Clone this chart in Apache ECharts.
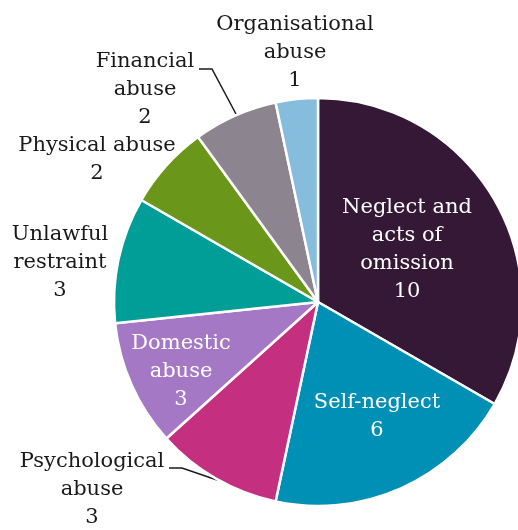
<!DOCTYPE html>
<html>
<head>
<meta charset="utf-8">
<script src="https://cdn.jsdelivr.net/npm/echarts@6/dist/echarts.min.js"></script>
<style>
  html, body { margin: 0; padding: 0; background: #fff; }
  #chart { width: 518px; height: 530px; }
</style>
</head>
<body>
<div id="chart"></div>
<script>
// categories and counts, clockwise from 12 o'clock
const categories = [
  'Neglect and\nacts of\nomission',
  'Self-neglect',
  'Psychological\nabuse',
  'Domestic\nabuse',
  'Unlawful\nrestraint',
  'Physical abuse',
  'Financial\nabuse',
  'Organisational\nabuse'
];
const counts = [10, 6, 3, 3, 3, 2, 2, 1];
const sliceColors = ['#351736', '#008fb5', '#c52f80', '#a478c4', '#009e96', '#6a9619', '#8c858f', '#86bcdc'];

// which labels sit inside the slice (white text)
const insideLabels = [true, true, false, true, false, false, false, false];

// label anchor (centre of text block), px
const labelSpots = [
  [407, 250], [377, 417], [92, 490], [181, 372],
  [60, 263], [97, 160], [145, 90], [295, 53]
];
// leader lines for the two labels that have one
const leaderLines = {
  2: [[217, 480], [182, 468], [169, 468]],
  6: [[236, 114], [212, 69], [199, 69]]
};

const chart = echarts.init(document.getElementById('chart'));

const option = {
  backgroundColor: '#fff',
  animation: false,
  series: [{
    type: 'pie',
    center: [318, 302],
    radius: 204,
    startAngle: 90,
    clockwise: true,
    avoidLabelOverlap: false,
    itemStyle: { borderColor: '#fff', borderWidth: 2.5 },
    label: {
      fontFamily: 'DejaVu Serif',
      fontSize: 21,
      lineHeight: 28,
      align: 'center',
      formatter: '{b}\n{c}'
    },
    labelLine: {
      lineStyle: { color: '#1a1a1a', width: 1.5 }
    },
    labelLayout: function (params) {
      const i = params.dataIndex;
      const p = labelSpots[i];
      const out = { x: p[0], y: p[1], align: 'center', verticalAlign: 'middle' };
      if (leaderLines[i]) out.labelLinePoints = leaderLines[i];
      return out;
    },
    data: categories.map((name, i) => ({
      name: name,
      value: counts[i],
      itemStyle: { color: sliceColors[i] },
      label: {
        position: insideLabels[i] ? 'inside' : 'outside',
        color: insideLabels[i] ? '#ffffff' : '#1a1a1a'
      },
      labelLine: { show: !!leaderLines[i] }
    }))
  }]
};

chart.setOption(option);

window.addEventListener('resize', function () {
  chart.resize();
});
</script>
</body>
</html>
